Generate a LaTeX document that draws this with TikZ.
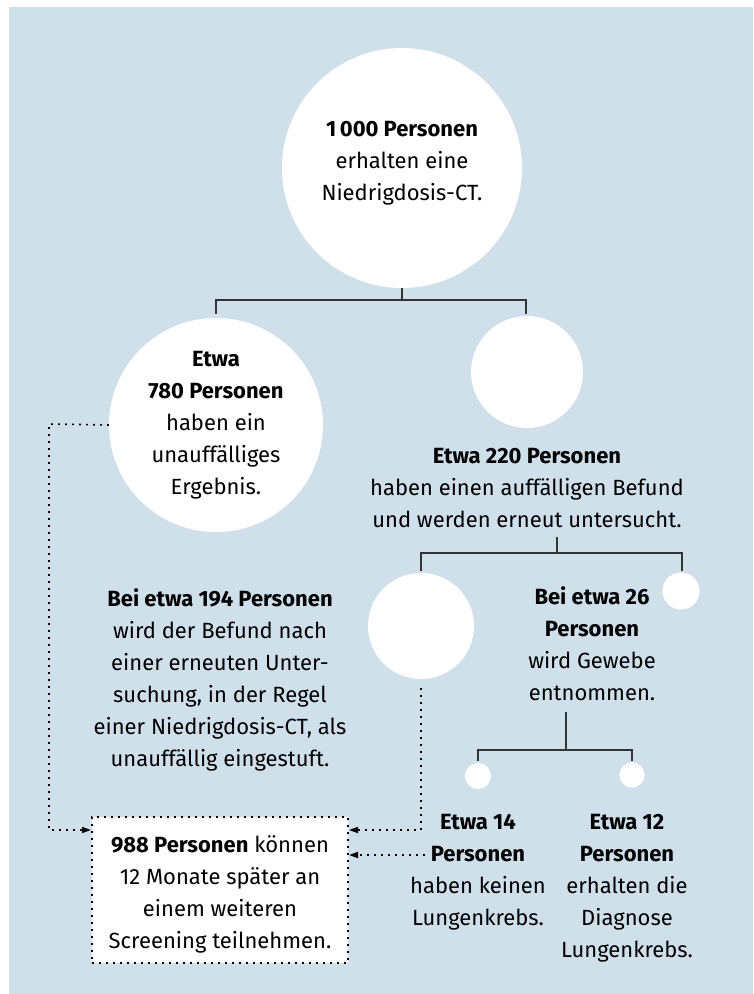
\documentclass[tikz,border=0pt]{standalone}
\usepackage{fontspec}
\setmainfont{Fira Sans}
\usetikzlibrary{arrows.meta}
\definecolor{bg}{HTML}{D0E0EA}
\definecolor{ln}{HTML}{333333}
\begin{document}
\begin{tikzpicture}[x=1pt,y=-1pt,
  circ/.style={circle,fill=white,inner sep=0pt},
  txt/.style={align=center,inner sep=0pt,font=\fontsize{22}{32}\selectfont,text=black},
  tree/.style={draw=ln,line width=1.4pt},
  dotline/.style={draw=black,line width=1.6pt,dash pattern=on 1.6pt off 5.4pt},
  arr/.style={dotline,-{Triangle[length=9pt,width=6pt,sep=0pt]}}]
\useasboundingbox (0,0) rectangle (753,994);
\fill[bg] (9,7) rectangle (753,994);
% circles
\node[circ,minimum size=240pt] (c0) at (402,168) {};
\node[circ,minimum size=214pt] (c1) at (216,425) {};
\node[circ,minimum size=112pt] (c2) at (527,372) {};
\node[circ,minimum size=106pt] (c3) at (421,626) {};
\node[circ,minimum size=37pt] (c4) at (681,591) {};
\node[circ,minimum size=26pt] (c5) at (478,776) {};
\node[circ,minimum size=25pt] (c6) at (632,775) {};
% texts
\node[txt] (t0) at (402,163) {\textbf{1\,000 Personen}\\erhalten eine\\Niedrigdosis-CT.};
\node[txt] (t1) at (216,425) {\textbf{Etwa}\\\textbf{780 Personen}\\haben ein\\unauffälliges\\Ergebnis.};
\node[txt] (t2) at (527,488) {\textbf{Etwa 220 Personen}\\haben einen auffälligen Befund\\und werden erneut untersucht.};
\node[txt] (t3) at (220,680) {\textbf{Bei etwa 194 Personen}\\wird der Befund nach\\einer erneuten Unter-\\suchung, in der Regel\\einer Niedrigdosis-CT, als\\unauffällig eingestuft.};
\node[txt] (t4) at (592,644) {\textbf{Bei etwa 26}\\\textbf{Personen}\\wird Gewebe\\entnommen.};
\node[txt] (t5) at (478,872) {\textbf{Etwa 14}\\\textbf{Personen}\\haben keinen\\Lungenkrebs.};
\node[txt] (t6) at (627,888) {\textbf{Etwa 12}\\\textbf{Personen}\\erhalten die\\Diagnose\\Lungenkrebs.};
% box
\node[dotline,fill=white,minimum width=256pt,minimum height=146pt,inner sep=0pt] (box) at (220,890) {};
\node[txt] (t7) at (220,894) {\textbf{988 Personen} können\\12 Monate später an\\einem weiteren\\Screening teilnehmen.};
% tree connectors
\coordinate (j0) at (402,300);
\coordinate (a1) at (216,314);
\coordinate (a2) at (526,314);
\draw[tree] (c0.south) -- (j0);
\draw[tree] (a1) |- (j0) -| (a2);
\coordinate (s1) at (557,537);
\coordinate (j1) at (557,553);
\coordinate (b1) at (421,571);
\coordinate (b2) at (682,571);
\draw[tree] (s1) -- (j1);
\draw[tree] (b1) |- (j1) -| (b2);
\coordinate (s2) at (566,712);
\coordinate (j2) at (566,750);
\coordinate (e1) at (478,761);
\coordinate (e2) at (632,761);
\draw[tree] (s2) -- (j2);
\draw[tree] (e1) |- (j2) -| (e2);
% dotted arrows
\coordinate (d1) at (49,424);
\coordinate (k1) at (91,830);
\coordinate (s3) at (421,688);
\coordinate (k2) at (349,830);
\coordinate (s4) at (425,855);
\coordinate (k3) at (349,855);
\draw[arr] (c1.west) -- (d1) |- (k1);
\draw[arr] (s3) |- (k2);
\draw[arr] (s4) -- (k3);
\end{tikzpicture}
\end{document}
